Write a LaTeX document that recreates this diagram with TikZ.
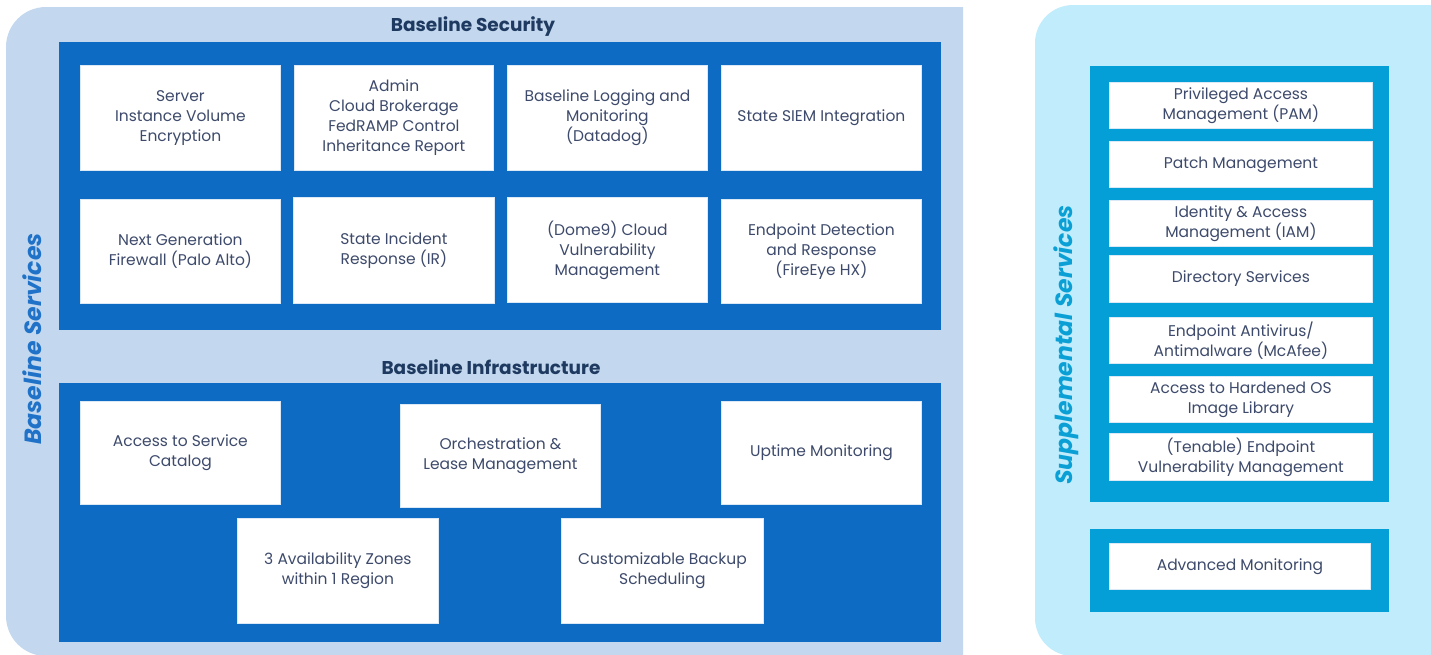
\documentclass[tikz,border=0pt]{standalone}
\usepackage{fontspec}
\setmainfont{Poppins}
\definecolor{panelA}{HTML}{C3D8EE}
\definecolor{panelB}{HTML}{C0ECFB}
\definecolor{darkblue}{HTML}{0E6BC4}
\definecolor{cyanbox}{HTML}{039FD6}
\definecolor{txt}{HTML}{3D4A6B}
\definecolor{ttl}{HTML}{1F3A60}
\definecolor{sideA}{HTML}{1F72C8}
\definecolor{sideB}{HTML}{0AA0D6}
\tikzset{
  wbox/.style={fill=white, draw=white!85!darkblue, line width=0.8pt, anchor=north west, align=center,
    text=txt, font=\fontsize{15.5}{20}\selectfont, inner sep=2pt},
  bigbox/.style={fill=darkblue, draw=none, anchor=north west, inner sep=0pt},
  cybox/.style={fill=cyanbox, draw=none, anchor=north west, inner sep=0pt},
  ttlstyle/.style={text=ttl, font=\fontsize{18.5}{22}\selectfont\bfseries},
  sidestyle/.style={rotate=90, font=\fontsize{23.5}{26}\selectfont\bfseries\itshape}
}
\begin{document}
\begin{tikzpicture}[x=1pt,y=-1pt]
\useasboundingbox (0,0) rectangle (1431,654);
% panels
\fill[panelA] (963,7) -- (46,7) arc[start angle=-90,end angle=-180,radius=40] -- (6,616) arc[start angle=180,end angle=90,radius=40] -- (963,656) -- cycle;
\fill[panelB] (1440,5) -- (1073,5) arc[start angle=-90,end angle=-180,radius=38] -- (1035,618) arc[start angle=180,end angle=90,radius=38] -- (1440,656) -- cycle;
% side titles
\node[sidestyle, text=sideA] (bsv) at (32,339) {Baseline Services};
\node[sidestyle, text=sideB] (ssv) at (1066,345) {Supplemental Services};
% Baseline Security
\node[ttlstyle] (bsec) at (473,27) {Baseline Security};
\node[bigbox, minimum width=882pt, minimum height=288pt] (secbox) at (59,42) {};
\node[wbox, minimum width=200pt, minimum height=105pt] (s1) at (80,65) {Server\\Instance Volume\\Encryption};
\node[wbox, minimum width=199pt, minimum height=105pt] (s2) at (294,65) {Admin\\Cloud Brokerage\\FedRAMP Control\\Inheritance Report};
\node[wbox, minimum width=200pt, minimum height=105pt] (s3) at (507,65) {Baseline Logging and\\Monitoring\\(Datadog)};
\node[wbox, minimum width=200pt, minimum height=105pt] (s4) at (721,65) {State SIEM Integration};
\node[wbox, minimum width=200pt, minimum height=104pt] (s5) at (80,199) {Next Generation\\Firewall (Palo Alto)};
\node[wbox, minimum width=201pt, minimum height=106pt] (s6) at (293,197) {State Incident\\Response (IR)};
\node[wbox, minimum width=200pt, minimum height=105pt] (s7) at (507,197) {(Dome9) Cloud\\Vulnerability\\Management};
\node[wbox, minimum width=200pt, minimum height=104pt] (s8) at (721,199) {Endpoint Detection\\and Response\\(FireEye HX)};
% Baseline Infrastructure
\node[ttlstyle] (binf) at (491,367) {Baseline Infrastructure};
\node[bigbox, minimum width=882pt, minimum height=259pt] (infbox) at (59,383) {};
\node[wbox, minimum width=200pt, minimum height=103pt] (i1) at (80,401) {Access to Service\\Catalog};
\node[wbox, minimum width=200pt, minimum height=103pt] (i2) at (400,404) {Orchestration \&\\Lease Management};
\node[wbox, minimum width=200pt, minimum height=103pt] (i3) at (721,401) {Uptime Monitoring};
\node[wbox, minimum width=201pt, minimum height=105pt] (i4) at (237,518) {3 Availability Zones\\within 1 Region};
\node[wbox, minimum width=202pt, minimum height=105pt] (i5) at (561,518) {Customizable Backup\\Scheduling};
% Supplemental
\node[cybox, minimum width=299pt, minimum height=436pt] (supbox) at (1090,66) {};
\node[wbox, minimum width=263pt, minimum height=46pt] (p1) at (1109,82) {Privileged Access\\Management (PAM)};
\node[wbox, minimum width=263pt, minimum height=46pt] (p2) at (1109,141) {Patch Management};
\node[wbox, minimum width=263pt, minimum height=46pt] (p3) at (1109,200) {Identity \& Access\\Management (IAM)};
\node[wbox, minimum width=263pt, minimum height=47pt] (p4) at (1109,255) {Directory Services};
\node[wbox, minimum width=263pt, minimum height=46pt] (p5) at (1109,317) {Endpoint Antivirus/\\Antimalware (McAfee)};
\node[wbox, minimum width=263pt, minimum height=46pt] (p6) at (1109,376) {Access to Hardened OS\\Image Library};
\node[wbox, minimum width=263pt, minimum height=47pt] (p7) at (1109,433) {(Tenable) Endpoint\\Vulnerability Management};
\node[cybox, minimum width=299pt, minimum height=83pt] (advbox) at (1090,529) {};
\node[wbox, minimum width=261pt, minimum height=46pt] (a1) at (1109,543) {Advanced Monitoring};
\end{tikzpicture}
\end{document}
